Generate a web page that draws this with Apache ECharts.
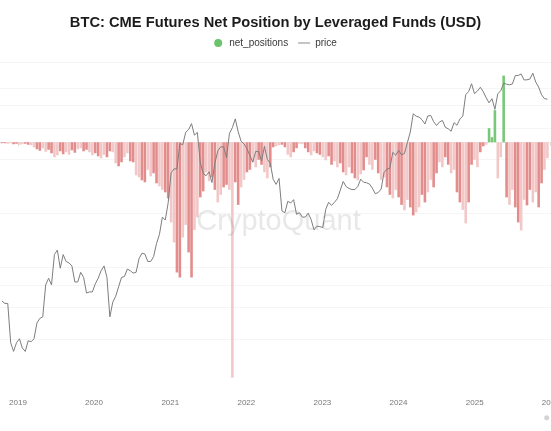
<!DOCTYPE html>
<html>
<head>
<meta charset="utf-8">
<script src="https://cdn.jsdelivr.net/npm/echarts@6/dist/echarts.min.js"></script>
<style>
  html, body { margin: 0; padding: 0; background: #fff; }
  #chart { width: 551px; height: 431px; }
</style>
</head>
<body>
<div id="chart"></div>
<script>
// one point every two weeks, starting mid-October 2018
var startDate = Date.UTC(2018, 9, 16);
var stepDays = 14;

// leveraged funds net position, billions USD
var netPositions = [
  -0.02, -0.02, -0.03, -0.02, -0.04, -0.03, -0.05, -0.04, -0.03, -0.05,
  -0.06, -0.10, -0.14, -0.17, -0.12, -0.19, -0.15, -0.22, -0.30, -0.26,
  -0.18, -0.24, -0.20, -0.25, -0.16, -0.21, -0.14, -0.12, -0.18, -0.15,
  -0.20, -0.26, -0.22, -0.28, -0.32, -0.25, -0.30, -0.18, -0.20, -0.42,
  -0.48, -0.40, -0.30, -0.22, -0.38, -0.40, -0.66, -0.70, -0.76, -0.80,
  -0.55, -0.68, -0.62, -0.82, -0.88, -0.95, -1.00, -1.12, -1.60, -2.00,
  -2.60, -2.70, -1.90, -1.65, -2.20, -2.70, -1.75, -1.50, -1.10, -0.98,
  -0.60, -0.78, -0.70, -0.95, -1.20, -1.05, -0.90, -0.85, -0.95, -4.70,
  -0.80, -1.25, -0.90, -0.75, -0.60, -0.55, -0.40, -0.50, -0.35, -0.45,
  -0.60, -0.72, -0.50, -0.10, -0.08, -0.06, -0.05, -0.10, -0.25, -0.30,
  -0.20, -0.12, -0.03, -0.04, -0.12, -0.20, -0.26, -0.18, -0.22, -0.25,
  -0.30, -0.36, -0.28, -0.45, -0.38, -0.50, -0.42, -0.60, -0.66, -0.50,
  -0.62, -0.72, -0.76, -0.64, -0.56, -0.30, -0.45, -0.55, -0.35, -0.62,
  -0.75, -0.70, -0.90, -1.05, -1.12, -0.95, -1.10, -1.25, -1.36, -1.15,
  -1.30, -1.46, -1.40, -1.30, -1.05, -1.20, -1.00, -0.75, -0.90, -0.62,
  -0.40, -0.50, -0.30, -0.45, -0.62, -0.55, -1.00, -1.20, -1.35, -1.62,
  -1.20, -0.45, -0.35, -0.50, -0.20, -0.08, -0.05, 0.28, 0.10, 0.64,
  -0.72, -0.30, 1.33, -1.10, -1.25, -0.95, -1.30, -1.60, -1.76, -1.15,
  -1.26, -0.95, -1.20, -1.00, -1.30, -0.82, -0.55, -0.32
];

// BTC price, USD
var prices = [
  6500, 6300, 6300, 3800, 3400, 3800, 4000, 3550, 3400, 3900,
  3850, 4000, 4900, 5200, 5300, 8000, 8700, 8000, 11800, 12500,
  9900, 11800, 10800, 10600, 10200, 8300, 8300, 9400, 8800, 7200,
  7300, 7300, 8100, 8700, 9600, 10200, 8800, 5300, 6400, 6900,
  7800, 8800, 8900, 9800, 9600, 9300, 9400, 11200, 12000, 11900,
  10800, 10800, 11500, 13600, 15300, 19100, 18400, 23000, 33800, 35500,
  35500, 49200, 48400, 56800, 58800, 63500, 54800, 56700, 38400, 33500,
  32500, 34200, 29800, 38200, 44700, 47100, 47100, 41000, 56000, 60300,
  67500, 57100, 50600, 49000, 46000, 42200, 38700, 44500, 44300, 39300,
  47400, 40100, 38100, 31000, 29100, 31400, 20700, 20200, 23400, 22900,
  23900, 19800, 20200, 19100, 19100, 20100, 18500, 16200, 17000, 16900,
  16700, 21100, 23100, 22200, 23100, 24200, 27000, 30200, 28300, 27600,
  27200, 27200, 28300, 31100, 29900, 29700, 29200, 27700, 25800, 26200,
  27400, 33900, 35400, 35800, 43900, 42300, 45000, 42500, 43300, 49700,
  57000, 72100, 69900, 69100, 66800, 63200, 70100, 70500, 65100, 62000,
  64800, 66200, 60600, 59400, 57600, 64300, 62200, 67400, 70000, 92300,
  95800, 106000, 93400, 96500, 101300, 95800, 88700, 82900, 87500, 76300,
  93400, 96800, 106800, 105400, 104600, 105700, 117800, 117900, 120200, 111300,
  111500, 112600, 121500, 108400, 101500, 92000, 87500, 87000
];

// faint horizontal guide lines on the price (log) scale
var gridLevels = [4000, 6000, 8000, 10000, 20000, 40000, 60000, 80000, 100000, 140000];

var dates = [];
for (var i = 0; i < prices.length; i++) {
  dates.push(startDate + i * stepDays * 86400000);
}

var barData = [];
var priceData = [];
for (var i = 0; i < dates.length; i++) {
  barData.push([dates[i], netPositions[i]]);
  priceData.push([dates[i], prices[i]]);
}

var fontFam = '"Liberation Sans", Arial, sans-serif';
var myChart = echarts.init(document.getElementById('chart'));

var option = {
  backgroundColor: '#ffffff',
  animation: false,
  useUTC: true,
  title: {
    text: 'BTC: CME Futures Net Position by Leveraged Funds (USD)',
    left: 'center',
    top: 15,
    padding: 0,
    textStyle: { fontFamily: fontFam, fontWeight: 'bold', fontSize: 14.7, color: '#1c1c1c' }
  },
  legend: {
    top: 38,
    left: 'center',
    padding: 0,
    itemWidth: 12,
    itemHeight: 8,
    itemGap: 10,
    textStyle: { fontFamily: fontFam, fontSize: 10, color: '#3a3a3a' },
    data: [
      { name: 'net_positions', icon: 'circle', itemStyle: { color: '#6cc36c' } },
      { name: 'price', icon: 'path://M0,0L12,0L12,1L0,1Z', itemStyle: { color: '#8a8a8a' } }
    ]
  },
  grid: {
    left: 0,
    right: -10,
    top: 17,
    bottom: 38.3,
    containLabel: false,
    outerBoundsMode: 'none'
  },
  xAxis: {
    type: 'time',
    min: Date.UTC(2018, 9, 13),
    max: Date.UTC(2026, 1, 13),
    splitNumber: 7,
    axisLine: { lineStyle: { color: '#ececec' } },
    axisTick: { show: true, length: 4, lineStyle: { color: '#dddddd' } },
    axisLabel: { fontFamily: fontFam, fontSize: 8, color: '#777', margin: 6, formatter: '{yyyy}' },
    splitLine: { show: false }
  },
  yAxis: [
    { type: 'value', min: -5, max: 2.5, show: false },
    { type: 'log', logBase: 10, min: 2000, max: 250000, show: false }
  ],
  series: [
    {
      name: 'net_positions',
      type: 'bar',
      yAxisIndex: 0,
      barWidth: 2.6,
      z: 2,
      itemStyle: {
        color: function (p) {
          if (p.value[1] >= 0) return '#79c779';
          return Math.floor(p.dataIndex / 2) % 2 ? '#f2c7c7' : '#e38c8c';
        }
      },
      data: barData
    },
    {
      name: 'price',
      type: 'line',
      yAxisIndex: 1,
      symbol: 'none',
      z: 3,
      lineStyle: { color: '#7e7e7e', width: 1 },
      itemStyle: { color: '#7e7e7e' },
      data: priceData,
      markLine: {
        silent: true,
        symbol: 'none',
        z: 1,
        label: { show: false },
        lineStyle: { color: '#f5f5f5', width: 1, type: 'solid' },
        data: gridLevels.map(function (v) { return { yAxis: v }; })
      }
    }
  ],
  graphic: [
    {
      type: 'text',
      x: 278.5,
      y: 222,
      z: 100,
      silent: true,
      style: {
        text: 'CryptoQuant',
        font: '29px ' + fontFam,
        fill: 'rgba(140,140,140,0.2)',
        align: 'center',
        verticalAlign: 'middle',
        textAlign: 'center',
        textVerticalAlign: 'middle'
      }
    },
    {
      type: 'circle',
      silent: true,
      shape: { cx: 546.7, cy: 417.7, r: 2.5 },
      style: { fill: '#d3d3d3' }
    }
  ]
};

myChart.setOption(option);
</script>
</body>
</html>
